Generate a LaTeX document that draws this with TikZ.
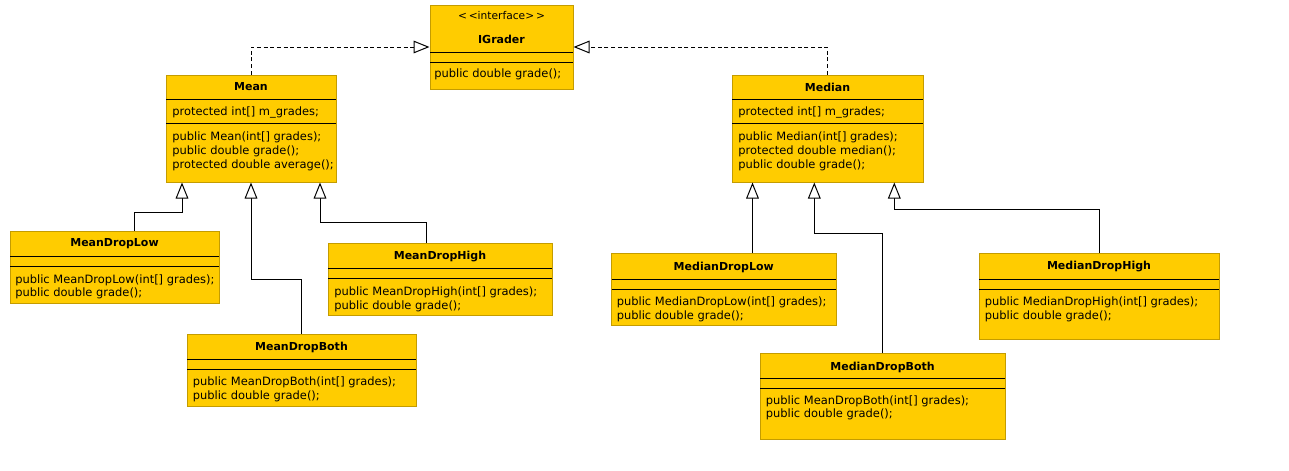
\documentclass[tikz,border=0pt]{standalone}
\usepackage{fontspec}
\newfontfamily\umlfont{DejaVu Sans}
\usetikzlibrary{arrows.meta,fit}
\definecolor{umlfill}{HTML}{FFCC00}
\definecolor{umledge}{HTML}{C49C00}
\tikzset{
  classbox/.style={fill=umlfill, draw=umledge, line width=0.75pt, inner sep=0pt, rectangle},
  sepline/.style={draw=black, line width=0.75pt},
  ctitle/.style={font=\umlfont\bfseries\fontsize{8.25}{10}\selectfont, inner sep=0pt},
  ctext/.style={font=\umlfont\fontsize{8.6}{10}\selectfont, inner sep=0pt, anchor=west},
  stereo/.style={font=\umlfont\fontsize{8}{10}\selectfont, inner sep=0pt},
  inh/.style={draw=black, line width=0.75pt, -{Triangle[open, length=12pt, width=9.5pt, fill=white]}},
  real/.style={inh, dash pattern=on 3pt off 2pt},
}
\begin{document}
\begin{tikzpicture}[x=0.75pt, y=-0.75pt]
\useasboundingbox (0,0) rectangle (1289,471);
\fill[white] (0,0) rectangle (1289,471);

% ---------- IGrader ----------
\node[classbox, fit={(430,5) (573,89)}] (igrader) {};
\draw[sepline] (430,52) -- (573,52);
\draw[sepline] (430,62) -- (573,62);
\node[stereo] (igst) at (501.5,16) {<\,<interface>\,>};
\node[ctitle] (igt) at (501.5,39) {IGrader};
\node[ctext] (igm) at (434,74) {public double grade();};

% ---------- Mean ----------
\node[classbox, fit={(166,75) (336,182)}] (mean) {};
\draw[sepline] (166,99) -- (336,99);
\draw[sepline] (166,123) -- (336,123);
\node[ctitle] (meant) at (251,87) {Mean};
\node[ctext] (meana) at (172,112) {protected int[] m\_grades;};
\node[ctext] (meanm1) at (172,137) {public Mean(int[] grades);};
\node[ctext] (meanm2) at (172,151) {public double grade();};
\node[ctext] (meanm3) at (172,165) {protected double average();};

% ---------- Median ----------
\node[classbox, fit={(732,75) (923,182)}] (median) {};
\draw[sepline] (732,99) -- (923,99);
\draw[sepline] (732,123) -- (923,123);
\node[ctitle] (medt) at (827.5,87) {Median};
\node[ctext] (meda) at (738,112) {protected int[] m\_grades;};
\node[ctext] (medm1) at (738,137) {public Median(int[] grades);};
\node[ctext] (medm2) at (738,151) {protected double median();};
\node[ctext] (medm3) at (738,165) {public double grade();};

% ---------- MeanDropLow ----------
\node[classbox, fit={(10,231) (219,303)}] (mdl) {};
\draw[sepline] (10,256) -- (219,256);
\draw[sepline] (10,266) -- (219,266);
\node[ctitle] (mdlt) at (114.5,244) {MeanDropLow};
\node[ctext] (mdlm1) at (15,280) {public MeanDropLow(int[] grades);};
\node[ctext] (mdlm2) at (15,293) {public double grade();};

% ---------- MeanDropHigh ----------
\node[classbox, fit={(328,243) (552,315)}] (mdh) {};
\draw[sepline] (328,268) -- (552,268);
\draw[sepline] (328,278) -- (552,278);
\node[ctitle] (mdht) at (440,257) {MeanDropHigh};
\node[ctext] (mdhm1) at (334,292) {public MeanDropHigh(int[] grades);};
\node[ctext] (mdhm2) at (334,306) {public double grade();};

% ---------- MeanDropBoth ----------
\node[classbox, fit={(187,334) (416,406)}] (mdb) {};
\draw[sepline] (187,359) -- (416,359);
\draw[sepline] (187,369) -- (416,369);
\node[ctitle] (mdbt) at (301.5,347) {MeanDropBoth};
\node[ctext] (mdbm1) at (192.5,382) {public MeanDropBoth(int[] grades);};
\node[ctext] (mdbm2) at (192.5,396) {public double grade();};

% ---------- MedianDropLow ----------
\node[classbox, fit={(611.5,253) (836,325.5)}] (mel) {};
\draw[sepline] (611.5,279) -- (836,279);
\draw[sepline] (611.5,289) -- (836,289);
\node[ctitle] (melt) at (723.75,267) {MedianDropLow};
\node[ctext] (melm1) at (616.5,302) {public MedianDropLow(int[] grades);};
\node[ctext] (melm2) at (616.5,316) {public double grade();};

% ---------- MedianDropHigh ----------
\node[classbox, fit={(979,253) (1219,339)}] (meh) {};
\draw[sepline] (979,279) -- (1219,279);
\draw[sepline] (979,289) -- (1219,289);
\node[ctitle] (meht) at (1099,267) {MedianDropHigh};
\node[ctext] (mehm1) at (984.5,302) {public MedianDropHigh(int[] grades);};
\node[ctext] (mehm2) at (984.5,316) {public double grade();};

% ---------- MedianDropBoth ----------
\node[classbox, fit={(760,353) (1005,439)}] (meb) {};
\draw[sepline] (760,378) -- (1005,378);
\draw[sepline] (760,388) -- (1005,388);
\node[ctitle] (mebt) at (882.5,367) {MedianDropBoth};
\node[ctext] (mebm1) at (765.5,401) {public MeanDropBoth(int[] grades);};
\node[ctext] (mebm2) at (765.5,414.5) {public double grade();};

% ---------- realizations ----------
\draw[real] (mean.north) |- (igrader.west);
\draw[real] (median.north) |- (igrader.east);

% ---------- generalizations ----------
\draw[inh] (mdl.north -| 134,0) -- (134,212) -| (mean.south -| 182,0);
\draw[inh] (mdb.north -| 301,0) -- (301,279) -| (mean.south);
\draw[inh] (mdh.north -| 426,0) -- (426,222) -| (mean.south -| 320,0);
\draw[inh] (mel.north -| 752.5,0) -- (median.south -| 752.5,0);
\draw[inh] (meb.north -| 882.5,0) -- (882.5,233.5) -| (median.south -| 814.3,0);
\draw[inh] (meh.north -| 1099.3,0) -- (1099.3,209.3) -| (median.south -| 894.3,0);
\end{tikzpicture}
\end{document}
